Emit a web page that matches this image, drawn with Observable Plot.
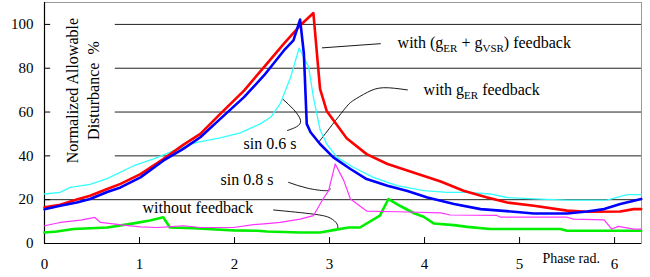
<!DOCTYPE html>
<html><head><meta charset="utf-8">
<script src="https://cdn.jsdelivr.net/npm/d3@7"></script>
<script src="https://cdn.jsdelivr.net/npm/@observablehq/plot@0.6"></script>
<style>body{margin:0;background:#fff} svg text{font-family:"Liberation Serif","Times New Roman",serif !important;}</style>
</head><body><div id="chart"></div>
<script>
// ---- data ----
const xTicks = [0, 1, 2, 3, 4, 5, 6];
const yTicks = [0, 20, 40, 60, 80, 100];
const gridFull = [20];
const gridPart = [40, 60, 80, 100];

const redX = [0, 0.165, 0.34, 0.48, 0.66, 0.80, 1.01, 1.25, 1.46, 1.64, 1.85, 2.10, 2.31, 2.52, 2.69, 2.83, 2.90, 2.97, 3.18, 3.39, 3.61, 3.89, 4.17, 4.41, 4.66, 4.87, 5.15, 5.50, 5.71, 6.06, 6.20, 6.28];
const redY = [16.5, 17.7, 20.1, 21.8, 24.9, 27.2, 31.7, 38.5, 45.0, 50.0, 59.2, 69.8, 80.5, 91.2, 99.5, 105.2, 70.6, 60.5, 48.0, 40.8, 36.3, 32.3, 28.3, 24.1, 21.0, 18.7, 17.2, 15.0, 14.5, 14.6, 15.7, 15.7];

const blueX = [0, 0.165, 0.34, 0.48, 0.66, 0.80, 1.01, 1.25, 1.46, 1.64, 1.85, 2.10, 2.31, 2.52, 2.62, 2.69, 2.73, 2.76, 2.80, 2.90, 3.04, 3.22, 3.39, 3.61, 3.82, 4.03, 4.31, 4.59, 4.94, 5.15, 5.50, 5.71, 5.89, 6.06, 6.28];
const blueY = [15.6, 17.2, 18.7, 20.3, 23.5, 25.6, 30.2, 37.8, 43.2, 48.5, 56.9, 66.8, 76.7, 88.1, 92.7, 102.2, 86.6, 54.6, 50.8, 45.4, 39.3, 34.0, 29.4, 26.4, 24.0, 21.0, 18.0, 15.7, 14.5, 13.7, 13.7, 14.6, 15.7, 18.0, 20.3];

const cyanX = [0, 0.165, 0.27, 0.48, 0.66, 0.94, 1.15, 1.36, 1.60, 1.85, 2.06, 2.27, 2.38, 2.48, 2.59, 2.68, 2.78, 2.83, 2.90, 2.97, 3.08, 3.25, 3.46, 3.71, 3.99, 4.24, 4.45, 4.69, 4.87, 5.22, 5.50, 5.92, 6.13, 6.28];
const cyanY = [22.6, 23.3, 25.6, 27.0, 29.6, 35.5, 38.6, 42.4, 46.2, 48.2, 50.5, 54.6, 57.6, 63.7, 75.9, 89.2, 80.5, 66.8, 52.0, 45.4, 39.3, 34.8, 30.2, 26.4, 24.1, 23.3, 23.3, 22.6, 21.0, 20.3, 19.8, 19.8, 22.3, 22.3];

const magX = [0, 0.165, 0.38, 0.53, 0.59, 0.83, 1.01, 1.18, 1.30, 1.46, 1.64, 1.99, 2.20, 2.34, 2.48, 2.69, 2.83, 2.92, 2.99, 3.06, 3.15, 3.22, 3.39, 3.71, 4.17, 4.27, 4.76, 4.80, 5.50, 5.57, 5.89, 5.97, 6.04, 6.20, 6.28];
const magY = [8.1, 9.6, 10.7, 11.9, 9.6, 8.4, 7.6, 7.3, 7.6, 8.1, 7.3, 7.3, 8.6, 9.1, 9.6, 11.1, 12.7, 19.5, 24.1, 36.3, 28.7, 20.3, 14.8, 14.5, 14.0, 13.0, 12.8, 12.0, 12.0, 11.1, 10.8, 6.6, 7.8, 6.6, 6.6];

const greenX = [0, 0.13, 0.305, 0.66, 0.94, 1.11, 1.25, 1.32, 1.57, 1.71, 1.99, 2.24, 2.34, 2.69, 2.90, 3.04, 3.20, 3.32, 3.53, 3.62, 3.75, 3.89, 3.99, 4.10, 4.31, 4.45, 4.69, 5.43, 5.50, 6.28];
const greenY = [5.0, 5.5, 6.6, 7.3, 9.2, 10.5, 12.0, 7.3, 7.0, 6.6, 6.0, 5.8, 5.5, 5.0, 5.0, 6.1, 7.3, 7.3, 12.7, 20.3, 17.0, 13.8, 12.2, 9.1, 8.4, 7.6, 6.6, 6.6, 5.8, 5.8];

const labels = ["with (g_{ER} + g_{VSR}) feedback", "with g_{ER} feedback", "sin 0.6 s", "sin 0.8 s", "without feedback"];
const labelX = [3.716, 3.99, 2.095, 1.853, 1.032];
const labelY = [91.7, 70.3, 45.6, 29.2, 16.4];

// leader lines (annotation connectors), in data units
const leaders = [
  [[2.924, 89.3], [3.535, 91.2]],
  [[2.882, 46.0], [3.146, 60.7], [3.251, 65.3], [3.398, 69.0], [3.566, 71.1], [3.819, 70.1]],
  [[2.505, 66.0], [2.621, 61.2], [2.695, 56.2], [2.653, 53.3], [2.558, 51.6]],
  [[2.569, 27.9], [2.763, 25.3], [2.956, 24.1], [3.008, 24.9]],
  [[2.411, 15.3], [2.832, 13.4], [3.008, 11.6], [3.079, 8.9], [3.085, 6.6]]
];

const yTitle = ["Normalized Allowable", "Disturbance\u00a0\u00a0%"];
const yTitleX = [0.295, 0.516];
const xMax = 6.2832;

// ---- build ----
const series = [
  {x: greenX, y: greenY, color: "#00ee00", w: 2.6},
  {x: magX, y: magY, color: "#ff33ff", w: 1.2},
  {x: cyanX, y: cyanY, color: "#33ffff", w: 1.3},
  {x: redX, y: redY, color: "#ff0000", w: 2.6},
  {x: blueX, y: blueY, color: "#0000ff", w: 2.6}
];
const toRows = (xs, ys) => xs.map((x, i) => ({x, y: ys[i]}));
const leaderRows = leaders.flatMap((pts, k) => pts.map(([x, y]) => ({x, y, k})));
const labelRows = labels.map((t, i) => ({t, x: labelX[i], y: labelY[i]}));
const yTitleRows = yTitle.map((t, i) => ({t, x: yTitleX[i], y: 69.8}));

const font = "Liberation Serif";

const plot = Plot.plot({
  width: 650, height: 277,
  marginLeft: 44, marginRight: 9, marginTop: 2, marginBottom: 34,
  x: {domain: [0, xMax]},
  y: {domain: [0, 110]},
  style: {fontFamily: font, fontSize: "15px", color: "#000", background: "#fff"},
  marks: [
    Plot.frame({stroke: "#999"}),
    Plot.ruleY(gridFull, {stroke: "#222", strokeWidth: 1}),
    Plot.ruleY(gridPart, {x1: 0.745, x2: xMax, stroke: "#222", strokeWidth: 1}),
    Plot.ruleX(xTicks, {y1: 0, y2: 2.7, stroke: "#000"}),
    Plot.ruleY(yTicks, {x1: 0, x2: 0.065, stroke: "#000"}),
    Plot.ruleY([0], {stroke: "#000", strokeWidth: 1.2}),
    Plot.ruleX([0], {stroke: "#000", strokeWidth: 1.2}),
    Plot.axisX({ticks: xTicks, tickFormat: d => String(d), tickSize: 0, tickPadding: 15, label: null, fontSize: 15, fill: "#000"}),
    Plot.axisY({ticks: yTicks, tickFormat: d => String(d), tickSize: 0, tickPadding: 11, label: null, fontSize: 15, fill: "#000"}),
    Plot.line(leaderRows, {x: "x", y: "y", z: "k", curve: "natural", stroke: "#000", strokeWidth: 0.9}),
    ...series.map(s => Plot.line(toRows(s.x, s.y), {x: "x", y: "y", stroke: s.color, strokeWidth: s.w, strokeLinejoin: "round"})),
    Plot.text(labelRows, {x: "x", y: "y", text: "t", textAnchor: "start", fontSize: 16, fill: "#000"}),
    Plot.text(yTitleRows, {x: "x", y: "y", text: "t", rotate: -90, fontSize: 16, fill: "#000"}),
    Plot.text(["Phase rad."], {x: 5.24, y: -6.8, text: d => d, textAnchor: "start", fontSize: 14, fill: "#000"})
  ]
});

// subscripts: turn "_{..}" into lowered, smaller tspans
d3.select(plot).selectAll("text").each(function() {
  const el = this;
  const s = el.textContent;
  if (!s.includes("_{")) return;
  while (el.firstChild) el.removeChild(el.firstChild);
  const parts = s.split(/(_\{[^}]*\})/);
  let lowered = false;
  parts.forEach(p => {
    if (!p) return;
    const t = document.createElementNS("http://www.w3.org/2000/svg", "tspan");
    if (p.startsWith("_{")) {
      t.textContent = p.slice(2, -1);
      t.setAttribute("font-size", "11");
      if (!lowered) { t.setAttribute("dy", "4"); lowered = true; }
    } else {
      t.textContent = p;
      if (lowered) { t.setAttribute("dy", "-4"); lowered = false; }
    }
    el.appendChild(t);
  });
});

document.getElementById("chart").appendChild(plot);
</script>
</body></html>
